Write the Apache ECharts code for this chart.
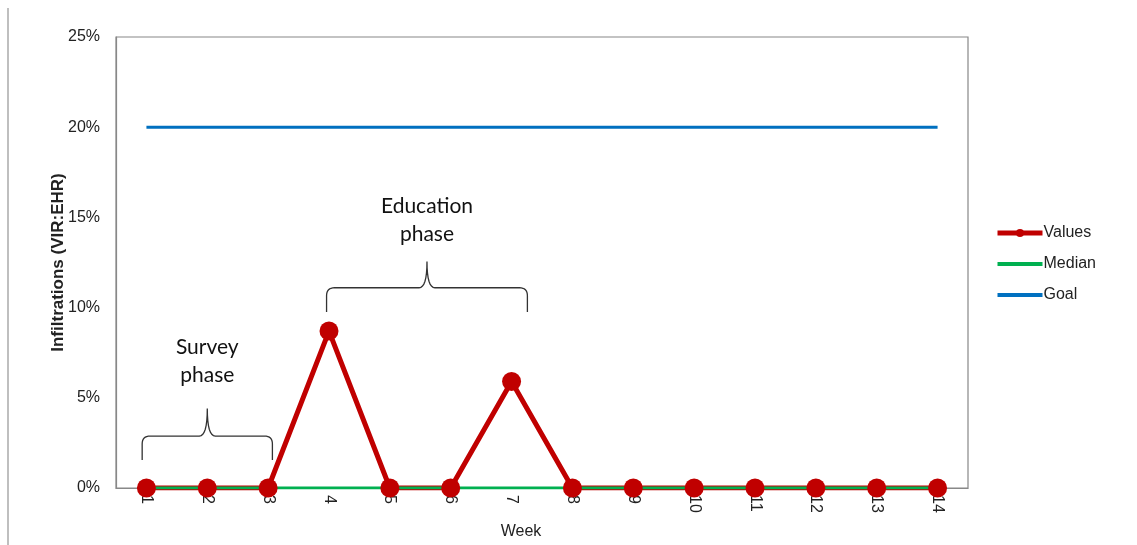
<!DOCTYPE html>
<html>
<head>
<meta charset="utf-8">
<script src="https://cdn.jsdelivr.net/npm/echarts@6/dist/echarts.min.js"></script>
<style>html,body{margin:0;padding:0;background:#fff;}#c{width:1137px;height:545px;}</style>
</head>
<body>
<div id="c"></div>
<script>
const weeks = ['1','2','3','4','5','6','7','8','9','10','11','12','13','14'];
const values = [0, 0, 0, 8.7, 0, 0, 5.9, 0, 0, 0, 0, 0, 0, 0];
const median = [0, 0, 0, 0, 0, 0, 0, 0, 0, 0, 0, 0, 0, 0];
const goal = [20, 20, 20, 20, 20, 20, 20, 20, 20, 20, 20, 20, 20, 20];
const yTicks = [0, 5, 10, 15, 20, 25];
// phase annotations: label, first week index, last week index
const phases = [
  {name: 'Survey\nphase', from: 0, to: 2},
  {name: 'Education\nphase', from: 3, to: 6}
];

const FONT = 'Liberation Sans, Arial, sans-serif';
const chart = echarts.init(document.getElementById('c'));
const axisColor = '#888';
const lineIcon = 'path://M0,0 L45,0 L45,4 L0,4 Z';
chart.setOption({
  animation: false,
  backgroundColor: '#fff',
  grid: {left: 116, right: 169, top: 37, bottom: 57, show: true, borderColor: axisColor, borderWidth: 1.2},
  legend: {
    orient: 'vertical', left: 990, top: 220, itemWidth: 45, itemHeight: 10, itemGap: 15,
    symbolKeepAspect: true,
    lineStyle: {width: 5},
    textStyle: {fontFamily: FONT, fontSize: 16, color: '#222', padding: [0,0,0,-4]},
    data: [
      {name: 'Values'},
      {name: 'Median', icon: lineIcon},
      {name: 'Goal', icon: lineIcon}
    ]
  },
  xAxis: {
    type: 'category', data: weeks, boundaryGap: true,
    name: 'Week', nameLocation: 'middle', nameGap: 36,
    nameTextStyle: {fontFamily: FONT, fontSize: 16, color: '#222', padding: [0, 42, 0, 0]},
    axisLine: {lineStyle: {color: axisColor, width: 1.2}},
    axisTick: {show: false},
    axisLabel: {rotate: -90, margin: 7, fontFamily: FONT, fontSize: 16, color: '#222'}
  },
  yAxis: {
    type: 'value', min: 0, max: 25, interval: 5,
    name: 'Infiltrations (VIR:EHR)', nameLocation: 'middle', nameGap: 49,
    nameMoveOverlap: false,
    nameTextStyle: {fontFamily: FONT, fontSize: 17, fontWeight: 'bold', color: '#222'},
    axisLine: {show: true, lineStyle: {color: axisColor, width: 1.2}},
    axisTick: {show: false},
    splitLine: {show: false},
    axisLabel: {
      margin: 16, fontFamily: FONT, fontSize: 16, color: '#222',
      formatter: v => yTicks.includes(v) ? v + '%' : ''
    }
  },
  series: [
    {name: 'Values', type: 'line', data: values, color: '#C00000',
     lineStyle: {width: 5, color: '#C00000'}, symbol: 'circle', symbolSize: 19,
     itemStyle: {color: '#C00000'}},
    {name: 'Median', type: 'line', data: median, color: '#00B050',
     lineStyle: {width: 3, color: '#00B050'}, symbol: 'none'},
    {name: 'Goal', type: 'line', data: goal, color: '#0070C0',
     lineStyle: {width: 3, color: '#0070C0'}, symbol: 'none'}
  ]
});

function quad(p0, c, p1, n) {
  const pts = [];
  for (let i = 1; i <= n; i++) {
    const t = i / n, u = 1 - t;
    pts.push([u*u*p0[0] + 2*u*t*c[0] + t*t*p1[0], u*u*p0[1] + 2*u*t*c[1] + t*t*p1[1]]);
  }
  return pts;
}
function bracePoints(x1, x2, yTop, yBottom, yPeak) {
  const cx = (x1 + x2) / 2, r = 8;
  let pts = [[x1, yBottom], [x1, yTop + r]];
  pts = pts.concat(quad([x1, yTop + r], [x1, yTop], [x1 + r, yTop], 8));
  pts.push([cx - r, yTop]);
  pts = pts.concat(quad([cx - r, yTop], [cx, yTop], [cx, yPeak], 8));
  pts = pts.concat(quad([cx, yPeak], [cx, yTop], [cx + r, yTop], 8));
  pts.push([x2 - r, yTop]);
  pts = pts.concat(quad([x2 - r, yTop], [x2, yTop], [x2, yTop + r], 8));
  pts.push([x2, yBottom]);
  return pts;
}

const gfx = [];
gfx.push({type: 'line', shape: {x1: 8, y1: 8, x2: 8, y2: 545}, style: {stroke: '#aaa', lineWidth: 1.5}});
// brace levels in axis units, horizontal overhang in fractions of a category band
const braceLevels = [
  {yBottom: 1.55, yTop: 2.88, yPeak: 4.4, text: 7.04, padL: 0.07, padR: 0.07},
  {yBottom: 9.75, yTop: 11.1, yPeak: 12.55, text: 14.86, padL: 0.04, padR: 0.26}
];
const bw = chart.convertToPixel({xAxisIndex: 0}, 1) - chart.convertToPixel({xAxisIndex: 0}, 0);
phases.forEach((p, i) => {
  const lv = braceLevels[i];
  const a = chart.convertToPixel({gridIndex: 0}, [p.from, lv.yTop]);
  const b = chart.convertToPixel({gridIndex: 0}, [p.to, lv.yBottom]);
  const pk = chart.convertToPixel({gridIndex: 0}, [p.from, lv.yPeak]);
  const t = chart.convertToPixel({gridIndex: 0}, [p.from, lv.text]);
  const x1 = a[0] - lv.padL * bw, x2 = b[0] + lv.padR * bw;
  gfx.push({type: 'polyline', shape: {points: bracePoints(x1, x2, a[1], b[1], pk[1])},
    style: {stroke: '#333', lineWidth: 1.3, fill: null}});
  gfx.push({type: 'text', x: (x1 + x2) / 2, y: t[1],
    style: {text: p.name, font: '21px Lato, "Open Sans", sans-serif', fill: '#111',
      align: 'center', verticalAlign: 'middle', lineHeight: 28}});
});
chart.setOption({graphic: gfx});
</script>
</body>
</html>
